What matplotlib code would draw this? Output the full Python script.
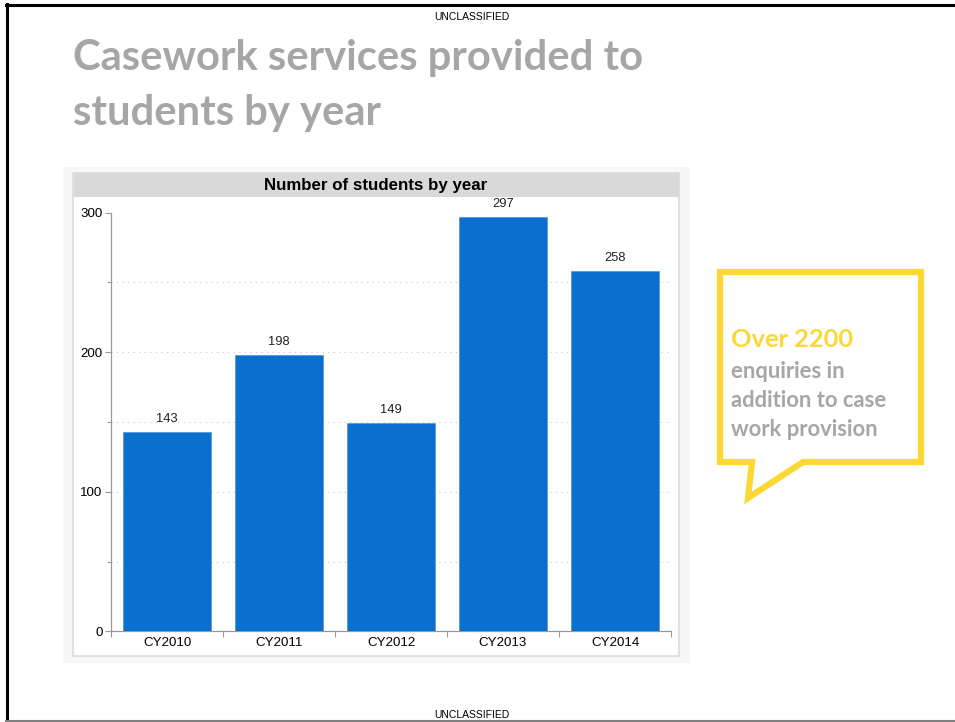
import matplotlib
matplotlib.use("Agg")
import matplotlib.pyplot as plt
from matplotlib.patches import Rectangle, Polygon
from matplotlib.transforms import Affine2D
from matplotlib.ticker import FixedLocator
from matplotlib.lines import Line2D

# ---- data ----
categories = ["CY2010", "CY2011", "CY2012", "CY2013", "CY2014"]
students = [143, 198, 149, 297, 258]
y_ticks = [0, 100, 200, 300]
y_minor_ticks = [50, 150, 250]
page_title_lines = ["Casework services provided to", "students by year"]
chart_title = "Number of students by year"
callout_head = "Over 2200"
callout_body = ["enquiries in", "addition to case", "work provision"]
marking = "UNCLASSIFIED"

W, H = 955, 722
fig = plt.figure(figsize=(W / 100, H / 100), dpi=100)
fig.patch.set_facecolor("white")
px = Affine2D().scale(1 / W, -1 / H).translate(0, 1) + fig.transFigure

BAR = "#0b6fce"
GREY_TXT = "#a6a6a6"
YEL = "#fdd835"

# page borders
fig.add_artist(Line2D([7, 7], [4, 722], transform=px, color="black", lw=2.2))
fig.add_artist(Line2D([6, 955], [5, 5], transform=px, color="black", lw=2.2))
fig.add_artist(Line2D([6, 955], [720.5, 720.5], transform=px, color="#808080", lw=1.5))

# markings
fig.text(472 / W, 1 - 17 / H, marking, ha="center", va="center", fontsize=7.5,
         family="Liberation Sans", color="black")
fig.text(472 / W, 1 - 715 / H, marking, ha="center", va="center", fontsize=7.5,
         family="Liberation Sans", color="black")

# page title
for i, line in enumerate(page_title_lines):
    fig.text(73 / W, 1 - (58 + 55 * i) / H, line, ha="left", va="center", fontsize=30.1,
             family="Lato", weight="bold", color=GREY_TXT)

# chart panels
fig.add_artist(Rectangle((63, 167), 627, 496, transform=px, facecolor="#f7f7f7",
                         edgecolor="none", zorder=0))
fig.add_artist(Rectangle((73, 172.5), 606, 483, transform=px, facecolor="white",
                         edgecolor="#dcdcdc", lw=1.2, zorder=0.5))
fig.add_artist(Rectangle((73.5, 173), 605, 24, transform=px, facecolor="#d9d9d9",
                         edgecolor="none", zorder=0.6))
fig.text(376 / W, 1 - 185.5 / H, chart_title, ha="center", va="center", fontsize=12.2,
         family="Liberation Sans", weight="bold", color="black", zorder=1)

# axes
ax_left, ax_right, ax_top, ax_bottom = 111, 671, 212.7, 631.3
ax = fig.add_axes([ax_left / W, 1 - ax_bottom / H, (ax_right - ax_left) / W,
                   (ax_bottom - ax_top) / H])
ax.set_zorder(2)
ax.set_facecolor("none")
x = list(range(len(categories)))
bars = ax.bar(x, students, width=0.786, color=BAR, edgecolor="#3a8ae0", linewidth=0.4,
              zorder=3)
for xi, v in zip(x, students):
    ax.annotate(str(v), (xi, v), xytext=(0, 5), textcoords="offset points",
                ha="center", va="bottom", fontsize=9.3, family="Liberation Sans",
                color="#222222", annotation_clip=False)
ax.set_xlim(-0.5, len(categories) - 0.5)
ax.set_ylim(0, 300)
ax.set_xticks(x)
ax.set_xticklabels(categories, family="Liberation Sans", fontsize=9.6)
ax.xaxis.set_minor_locator(FixedLocator([i - 0.5 for i in range(len(categories) + 1)]))
ax.tick_params(axis="x", which="major", length=0, pad=4)
ax.tick_params(axis="x", which="minor", length=4, color="#999999", width=0.8)
ax.set_yticks(y_ticks)
ax.set_yticklabels([str(t) for t in y_ticks], family="Liberation Sans", fontsize=9.6)
ax.yaxis.set_minor_locator(FixedLocator(y_minor_ticks))
ax.tick_params(axis="y", which="major", length=4, color="#999999", width=0.8, pad=2)
ax.tick_params(axis="y", which="minor", length=3, color="#999999", width=0.8)
ax.yaxis.grid(True, which="both", linestyle=(0, (1, 4)), color="#c8c8c8", lw=0.8)
ax.set_axisbelow(True)
fig.canvas.draw()
for t, gl in zip(ax.get_yticks(), ax.yaxis.get_gridlines()):
    if t >= 300:
        gl.set_visible(False)
for s in ["top", "right"]:
    ax.spines[s].set_visible(False)
for s in ["left", "bottom"]:
    ax.spines[s].set_color("#999999")
    ax.spines[s].set_linewidth(0.9)

# callout
callout = [(720, 272), (921, 272), (921, 462), (803, 462), (748, 498),
           (752, 462), (720, 462)]
fig.add_artist(Polygon(callout, closed=True, transform=px, facecolor="white",
                       edgecolor=YEL, lw=4.5, joinstyle="miter"))
fig.text(731 / W, 1 - 340 / H, callout_head, ha="left", va="center", fontsize=18.3,
         family="Lato", weight="bold", color=YEL)
for i, line in enumerate(callout_body):
    fig.text(731 / W, 1 - (371 + 29.3 * i) / H, line, ha="left", va="center",
             fontsize=15.8, family="Lato", weight="bold", color=GREY_TXT)

fig.savefig("out.png", dpi=100)
